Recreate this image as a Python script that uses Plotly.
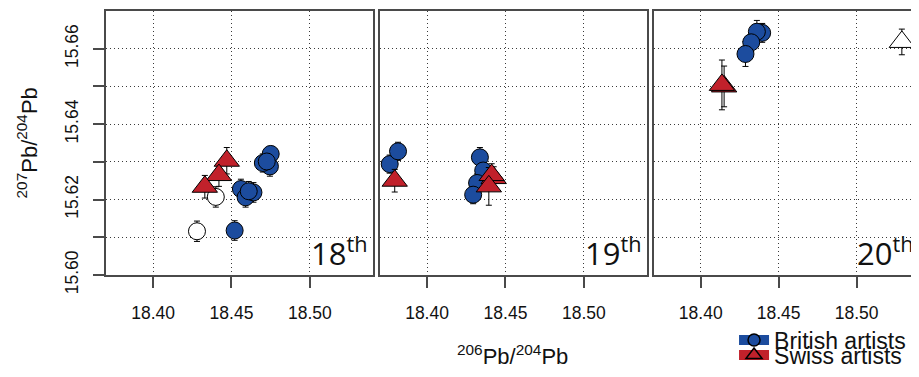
import plotly.graph_objects as go

# ---------------- data ----------------
# 18th century panel
c18_brit_x = [18.4745, 18.4750, 18.4700, 18.4725, 18.4520, 18.4560, 18.4590, 18.4640, 18.4610]
c18_brit_y = [15.6288, 15.6321, 15.6297, 15.6301, 15.6118, 15.6228, 15.6206, 15.6219, 15.6222]
c18_brit_e = [0.0026, 0.0020, 0.0024, 0.0020, 0.0026, 0.0026, 0.0026, 0.0026, 0.0026]
c18_swiss_x = [18.4470, 18.4420, 18.4330]
c18_swiss_y = [15.6303, 15.6265, 15.6234]
c18_swiss_e = [0.0035, 0.0030, 0.0030]
c18_other_x = [18.4280, 18.4400]
c18_other_y = [15.6116, 15.6207]
c18_other_e = [0.0027, 0.0027]

# 19th century panel
c19_brit_x = [18.3762, 18.3815, 18.4337, 18.4358, 18.4319, 18.4294]
c19_brit_y = [15.6294, 15.6328, 15.6312, 15.6277, 15.6244, 15.6213]
c19_brit_e = [0.0024, 0.0024, 0.0026, 0.0024, 0.0024, 0.0024]
c19_swiss_x = [18.3794, 18.4425, 18.4412, 18.4394]
c19_swiss_y = [15.6250, 15.6257, 15.6265, 15.6235]
c19_swiss_e = [0.0030, 0.0030, 0.0030, 0.0050]

# 20th century panel
c20_brit_x = [18.4394, 18.4360, 18.4324, 18.4287]
c20_brit_y = [15.6642, 15.6645, 15.6617, 15.6586]
c20_brit_e = [0.0025, 0.0030, 0.0025, 0.0033]
c20_swiss_x = [18.4150, 18.4136]
c20_swiss_y = [15.6500, 15.6504]
c20_swiss_e = [0.0054, 0.0066]
c20_other_x = [18.5290]
c20_other_y = [15.6618]
c20_other_e = [0.0034]

panel_labels = ["18<sup>th</sup>", "19<sup>th</sup>", "20<sup>th</sup>"]
x_ticks = [18.40, 18.45, 18.50]
x_ticktext = ["18.40", "18.45", "18.50"]
y_ticks = [15.60, 15.61, 15.62, 15.63, 15.64, 15.65, 15.66]
y_ticktext = ["15.60", "", "15.62", "", "15.64", "", "15.66"]
legend_names = ["British artists", "Swiss artists"]

# ---------------- style ----------------
BLUE = "#1C4C9E"
RED = "#C1212B"
AX = "#4a4a4a"
GRID = "#3a3a3a"
FONT = "Liberation Sans, Arial, sans-serif"

CIRCLE_SIZE = 17
TRI_SIZE = 22

fig = go.Figure()


def add_pts(xs, ys, es, xaxis, yaxis, symbol, fill, size):
    fig.add_trace(go.Scatter(
        x=xs, y=ys, xaxis=xaxis, yaxis=yaxis, mode="markers",
        showlegend=False, hoverinfo="x+y",
        marker=dict(symbol=symbol, size=size, color=fill,
                    line=dict(color="black", width=1)),
        error_y=dict(type="data", array=es, visible=True,
                     color="black", thickness=1, width=3),
    ))


# panel 1
add_pts(c18_other_x, c18_other_y, c18_other_e, "x", "y", "circle", "white", CIRCLE_SIZE)
add_pts(c18_brit_x, c18_brit_y, c18_brit_e, "x", "y", "circle", BLUE, CIRCLE_SIZE)
add_pts(c18_swiss_x, c18_swiss_y, c18_swiss_e, "x", "y", "triangle-up", RED, TRI_SIZE)
# panel 2
add_pts(c19_brit_x, c19_brit_y, c19_brit_e, "x2", "y2", "circle", BLUE, CIRCLE_SIZE)
add_pts(c19_swiss_x, c19_swiss_y, c19_swiss_e, "x2", "y2", "triangle-up", RED, TRI_SIZE)
# panel 3
add_pts(c20_brit_x, c20_brit_y, c20_brit_e, "x3", "y3", "circle", BLUE, CIRCLE_SIZE)
add_pts(c20_swiss_x, c20_swiss_y, c20_swiss_e, "x3", "y3", "triangle-up", RED, TRI_SIZE)
add_pts(c20_other_x, c20_other_y, c20_other_e, "x3", "y3", "triangle-up", "white", TRI_SIZE)

# legend entries (colour block + symbol)
fig.add_trace(go.Scatter(
    x=[None], y=[None], mode="lines+markers", name=legend_names[0],
    legend="legend",
    line=dict(color=BLUE, width=14),
    marker=dict(symbol="circle", size=12, color=BLUE, line=dict(color="black", width=1.5)),
))
fig.add_trace(go.Scatter(
    x=[None], y=[None], mode="lines+markers", name=legend_names[1],
    legend="legend2",
    line=dict(color=RED, width=14),
    marker=dict(symbol="triangle-up", size=14, color=RED, line=dict(color="black", width=1.5)),
))

doms = [[0.0, 0.328], [0.337, 0.665], [0.674, 1.0]]
xr = [18.37, 18.54]
yr = [15.60, 15.67]

common_x = dict(range=xr, showline=True, linecolor=AX, linewidth=1.5, mirror=True,
                ticks="outside", ticklen=11, tickwidth=1.5, tickcolor=AX,
                tickvals=x_ticks, ticktext=x_ticktext,
                showgrid=True, gridcolor=GRID, gridwidth=1, griddash="1px,3px",
                zeroline=False, tickfont=dict(family=FONT, size=17.5, color="#111"),
                ticklabelstandoff=10)
common_y = dict(range=yr, showline=True, linecolor=AX, linewidth=1.5, mirror=True,
                tickvals=y_ticks, ticktext=y_ticktext,
                showgrid=True, gridcolor=GRID, gridwidth=1, griddash="1px,3px",
                zeroline=False)

# figure sized so that, with the page's 8 px body margin, the page is exactly 919 x 377
layout = dict(
    width=911, height=361,
    margin=dict(l=98, r=0, t=3, b=94, autoexpand=False),
    paper_bgcolor="white", plot_bgcolor="white",
    font=dict(family=FONT, size=17, color="#111"),
    xaxis=dict(domain=doms[0], anchor="y", **common_x),
    xaxis2=dict(domain=doms[1], anchor="y2", **common_x),
    xaxis3=dict(domain=doms[2], anchor="y3", **common_x),
    yaxis=dict(anchor="x", ticks="outside", ticklen=11, tickwidth=1.5, tickcolor=AX,
               tickangle=-90, tickfont=dict(family=FONT, size=17.5, color="#111"),
               ticklabelstandoff=8, **common_y),
    yaxis2=dict(anchor="x2", matches="y", showticklabels=False, ticks="", **common_y),
    yaxis3=dict(anchor="x3", matches="y", showticklabels=False, ticks="", **common_y),
    legend=dict(x=0.7725, y=-0.2466, xanchor="left", yanchor="middle",
                bgcolor="rgba(0,0,0,0)", font=dict(family=FONT, size=23, color="#111"),
                itemclick=False, itemdoubleclick=False),
    legend2=dict(x=0.7725, y=-0.3034, xanchor="left", yanchor="middle",
                 bgcolor="rgba(0,0,0,0)", font=dict(family=FONT, size=23, color="#111"),
                 itemclick=False, itemdoubleclick=False),
)
fig.update_layout(**layout)

annotations = []
for i, lab in enumerate(panel_labels):
    xref = "x domain" if i == 0 else f"x{i+1} domain"
    yref = "y domain" if i == 0 else f"y{i+1} domain"
    annotations.append(dict(text=lab, xref=xref, yref=yref, x=0.985, y=-0.005,
                            xanchor="right", yanchor="bottom", showarrow=False,
                            font=dict(family="Open Sans, sans-serif", size=31, color="#111")))
annotations.append(dict(text="<sup>207</sup>Pb/<sup>204</sup>Pb", xref="paper", yref="paper",
                        x=-0.0966, y=0.5, xanchor="center", yanchor="middle",
                        textangle=-90, showarrow=False,
                        font=dict(family=FONT, size=22, color="#111")))
annotations.append(dict(text="<sup>206</sup>Pb/<sup>204</sup>Pb", xref="paper", yref="paper",
                        x=0.5, y=-0.3019, xanchor="center", yanchor="middle",
                        showarrow=False, font=dict(family=FONT, size=22, color="#111")))
fig.update_layout(annotations=annotations)

fig.write_html("out.html")
